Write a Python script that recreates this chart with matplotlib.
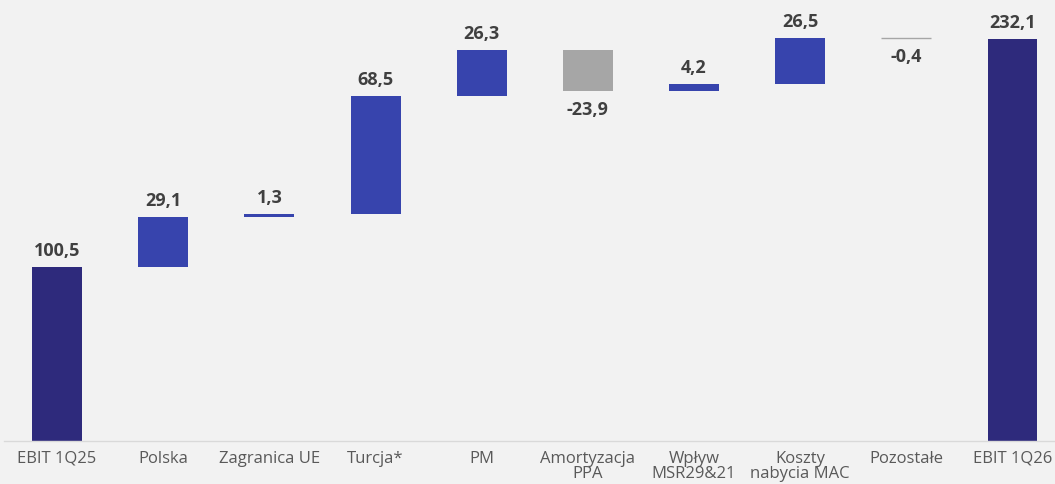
import matplotlib
matplotlib.use("Agg")
import matplotlib.pyplot as plt
from matplotlib.transforms import offset_copy

categories = ["EBIT 1Q25", "Polska", "Zagranica UE", "Turcja*", "PM",
              "Amortyzacja\nPPA", "Wpływ\nMSR29&21", "Koszty\nnabycia MAC",
              "Pozostałe", "EBIT 1Q26"]
values = [100.5, 29.1, 1.3, 68.5, 26.3, -23.9, 4.2, 26.5, -0.4, 232.1]
labels = ["100,5", "29,1", "1,3", "68,5", "26,3", "-23,9", "4,2", "26,5", "-0,4", "232,1"]
is_total = [True, False, False, False, False, False, False, False, False, True]

BG = "#f2f2f2"
NAVY = "#2e2a7c"
BLUE = "#3744ad"
GRAY = "#a6a6a6"

fig = plt.figure(figsize=(10.55, 4.84), dpi=100, facecolor=BG)
ax = fig.add_axes([4/1055, (484-441)/484, 1 - 4/1055, (441-20)/484])
ax.set_facecolor(BG)

running = 0.0
for i, (v, tot) in enumerate(zip(values, is_total)):
    if tot:
        bottom, height, color = 0, v, NAVY
        running = v
    else:
        if v >= 0:
            bottom, height = running, v
            color = BLUE
        else:
            bottom, height = running + v, -v
            color = GRAY
        running += v
    if abs(height) < 1:
        ax.plot([i - 0.235, i + 0.235], [bottom + height, bottom + height],
                color=GRAY, lw=1.0, solid_capstyle="butt")
    else:
        ax.bar(i, height, bottom=bottom, width=0.47, color=color,
               edgecolor="none", linewidth=0)
    if v >= 0:
        tr = offset_copy(ax.transData, fig=fig, x=0, y=5, units="points")
        ax.text(i, bottom + height, labels[i], ha="center", va="bottom",
                fontsize=13, fontweight="bold", color="#404040",
                family="Open Sans", transform=tr)
    else:
        y = bottom if abs(height) >= 1 else bottom + height
        tr = offset_copy(ax.transData, fig=fig, x=0, y=-7, units="points")
        ax.text(i, y, labels[i], ha="center", va="top",
                fontsize=13, fontweight="bold", color="#404040",
                family="Open Sans", transform=tr)

ax.set_xlim(-0.5, 9.4)
ax.set_ylim(0, 232.1 * (441 - 20) / (441 - 39))
for s in ["top", "right", "left"]:
    ax.spines[s].set_visible(False)
ax.spines["bottom"].set_color("#d9d9d9")
ax.spines["bottom"].set_linewidth(1.0)
ax.set_yticks([])
ax.set_xticks(range(len(categories)))
ax.set_xticklabels(categories, fontsize=12, color="#595959", family="Open Sans",
                   linespacing=0.95)
ax.tick_params(axis="x", length=0, pad=7)

fig.savefig("out.png", dpi=100, facecolor=BG)
